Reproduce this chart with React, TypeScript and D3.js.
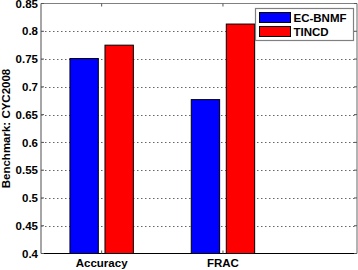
import React from "react";
import * as d3 from "d3";

const categories = ["Accuracy", "FRAC"];
const series = ["EC-BNMF", "TINCD"];
const ecbnmf = [0.751, 0.677];
const tincd = [0.775, 0.813];
const yTicks = [0.4, 0.45, 0.5, 0.55, 0.6, 0.65, 0.7, 0.75, 0.8, 0.85];
const colors = ["#0000ff", "#ff0000"];

const W = 358, H = 270;
const L = 41, R = 357, T = 3.5, B = 253.5;
const FONT = "'Liberation Sans', Arial, sans-serif";

export default function App() {
  const values = [ecbnmf, tincd];
  const x = d3.scaleLinear().domain([0.5, 3.105]).range([L, R]);
  const y = d3.scaleLinear().domain([0.4, 0.85]).range([B, T]);
  const sub = d3.scaleBand<string>().domain(series).range([-31.7, 31.7]).paddingInner(0.19).paddingOuter(0);
  const fmt = (v: number) => String(+v.toFixed(2));
  return (
    <svg width={W} height={H} style={{ position: "absolute", left: 0, top: 0, background: "#fff" }} fontFamily={FONT}>
      <rect x={0} y={0} width={W} height={H} fill="#fff" />
      {/* grid */}
      {yTicks.slice(1, -1).map((t) => (
        <line key={"g" + t} x1={L} x2={R} y1={Math.round(y(t)) + 0.5} y2={Math.round(y(t)) + 0.5}
          stroke="#666" strokeWidth={1} strokeDasharray="1.5,2.5" />
      ))}
      {/* bars */}
      {categories.map((c, i) =>
        series.map((s, j) => {
          const cx = x(i + 1);
          const x0 = cx + (sub(s) as number);
          return (
            <rect key={c + s} x={x0} y={y(values[j][i])} width={sub.bandwidth()} height={B - y(values[j][i])}
              fill={colors[j]} stroke="#000" strokeWidth={1} />
          );
        })
      )}
      {/* axes box */}
      <line x1={L} x2={R} y1={T} y2={T} stroke="#808080" strokeWidth={1.2} />
      <line x1={R} x2={R} y1={T} y2={B} stroke="#808080" strokeWidth={1.2} />
      <line x1={L} x2={L} y1={T} y2={B} stroke="#808080" strokeWidth={1.4} />
      <line x1={L} x2={R} y1={B} y2={B} stroke="#000" strokeWidth={1.2} />
      {/* y ticks */}
      {yTicks.map((t) => (
        <g key={"t" + t}>
          <line x1={L} x2={L + 3} y1={y(t)} y2={y(t)} stroke="#555" />
          <line x1={R - 3} x2={R} y1={y(t)} y2={y(t)} stroke="#555" />
          <text x={38} y={y(t)} dy="0.36em" textAnchor="end" fontSize={11.5} fontWeight="bold" fill="#000">
            {fmt(t)}
          </text>
        </g>
      ))}
      {/* x ticks & labels */}
      {categories.map((c, i) => (
        <g key={"x" + c}>
          <line x1={x(i + 1)} x2={x(i + 1)} y1={T} y2={T + 3} stroke="#555" />
          <line x1={x(i + 1)} x2={x(i + 1)} y1={B - 3} y2={B} stroke="#555" />
          <text x={x(i + 1)} y={267} textAnchor="middle" fontSize={11.5} fontWeight="bold" fill="#000">{c}</text>
        </g>
      ))}
      {/* y label */}
      <text transform={`translate(9.5, ${(T + B) / 2}) rotate(-90)`} textAnchor="middle" fontSize={11.5} fontWeight="bold" fill="#000">
        Benchmark: CYC2008
      </text>
      {/* legend */}
      <g>
        <rect x={255.5} y={8.5} width={98} height={32} fill="#fff" stroke="#808080" strokeWidth={1.2} />
        {series.map((s, j) => (
          <g key={"l" + s}>
            <rect x={259.5} y={12.5 + j * 14} width={31} height={10} fill={colors[j]} stroke="#000" strokeWidth={1} />
            <text x={293.5} y={22 + j * 14} fontSize={11.5} fontWeight="bold" fill="#000">{s}</text>
          </g>
        ))}
      </g>
    </svg>
  );
}
